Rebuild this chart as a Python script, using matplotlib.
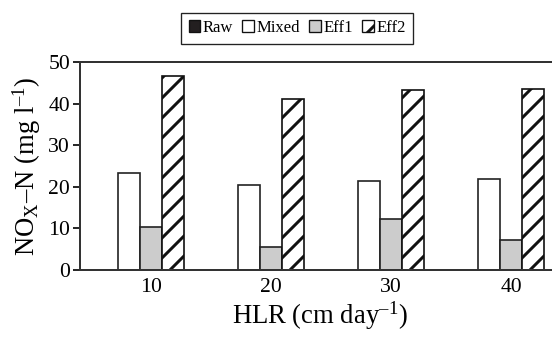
import matplotlib.pyplot as plt
import numpy as np
from matplotlib.patches import Patch

plt.rcParams['font.family'] = ['Liberation Serif', 'DejaVu Serif']
plt.rcParams['mathtext.fontset'] = 'stix'
plt.rcParams['hatch.linewidth'] = 1.8

hlr = ['10', '20', '30', '40']
series = ['Raw', 'Mixed', 'Eff1', 'Eff2']
raw = [0, 0, 0, 0]
mixed = [23.3, 20.5, 21.5, 21.8]
eff1 = [10.4, 5.5, 12.3, 7.3]
eff2 = [46.7, 41.2, 43.3, 43.5]

fig = plt.figure(figsize=(4.6, 337 / 120), dpi=120)
ax = fig.add_axes([80 / 552, 67 / 337, 480 / 552, 208 / 337])

x = np.arange(len(hlr))
w = 22 / 120
styles = [
    dict(color='#231f20', edgecolor='#231f20'),
    dict(color='white', edgecolor='#222222'),
    dict(color='#cccccc', edgecolor='#222222'),
    dict(color='white', edgecolor='#111111', hatch='//'),
]
vals = [raw, mixed, eff1, eff2]
for i, (v, st) in enumerate(zip(vals, styles)):
    ax.bar(x + (i - 1.5) * w, v, w, linewidth=1.0, **st)

ax.set_xlim(-0.5, 3.5)
ax.set_ylim(0, 50)
ax.set_yticks([0, 10, 20, 30, 40, 50])
ax.set_xticks(x + 0.5 * w)
ax.set_xticklabels(hlr)
ax.tick_params(axis='x', length=0, labelsize=13, pad=5)
ax.tick_params(axis='y', length=4, width=1, labelsize=13, pad=2)
for s in ax.spines.values():
    s.set_linewidth(1.2)
    s.set_color('#333333')

ax.set_ylabel('NO$_{\\mathregular{X}}$–N (mg l$^{\\mathregular{–1}}$)', fontsize=16, labelpad=3)
ax.set_xlabel('HLR (cm day$^{\\mathregular{–1}}$)', fontsize=16, labelpad=1)

handles = [Patch(facecolor=st['color'], edgecolor='#111111', hatch=st.get('hatch'), linewidth=0.8)
           for st in styles]
leg = fig.legend(handles, series, loc='center', bbox_to_anchor=(297 / 552, 1 - 28 / 337),
                 ncol=4, fontsize=10, handlelength=0.7, handleheight=0.7, handletextpad=0.15,
                 columnspacing=0.55, borderpad=0.45, fancybox=False, framealpha=1)
leg.get_frame().set_edgecolor('#222222')
leg.get_frame().set_linewidth(0.8)

fig.savefig('out.png', dpi=120)
